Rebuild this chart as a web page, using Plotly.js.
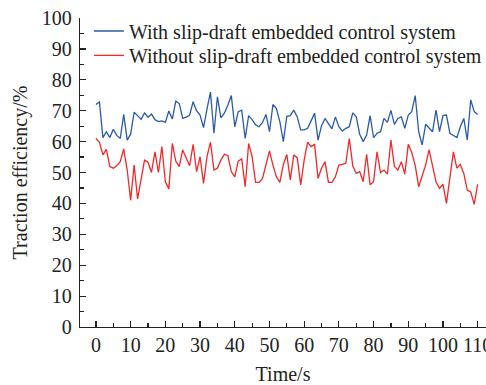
<!DOCTYPE html>
<html>
<head>
<meta charset="utf-8">
<script src="https://cdn.plot.ly/plotly-3.0.1.min.js"></script>
<style>html,body{margin:0;padding:0;background:#fff;}#chart{width:486px;height:385px;}</style>
</head>
<body>
<div id="chart"></div>
<script>
const timeS = Array.from({length: 111}, (_, i) => i);
const withSystem = [72,72.8,61.3,63.2,61.3,64,62,61,68.8,60.5,
  62.4,69.5,68.4,67.2,69.3,67.9,68.9,67.1,66.5,66.7,
  66.2,69.9,67.3,73.1,72.3,67.5,67.9,68.6,72.9,69.9,
  68.6,64.5,70.6,76,62.7,74.5,67.7,69.2,71.8,74.9,
  64.8,69.7,70.2,61,68.4,67.1,65.4,64.8,66.2,68.8,
  63.2,72,70.7,66.4,60,68.2,68.4,70.2,68,63.8,
  63.8,64.3,66.7,69.2,60.5,65.1,67.5,66,64.1,68,
  64.8,63.4,64.3,64.8,69.3,68,62.4,60,62.1,68.4,
  61.3,62.7,63.2,67.5,66.2,70.1,65.6,67.5,68,64.3,
  68.6,69.7,74.9,63.2,58.9,65.6,64.5,63.2,70.2,63.2,
  68.4,68.6,62.7,61.9,61.3,64.8,67.5,60.5,73.5,69.7,68.8];
const withoutSystem = [61,59.8,55.7,57.5,51.9,51.4,52.2,53.5,57.6,50.8,
  41,52.4,41.5,47.6,54,53.3,50,56.7,50,58.4,
  47,44.7,59.4,53.7,51.9,57.3,54.6,52.2,59.1,50.3,
  55.1,46.5,55.1,59.8,50.8,51.4,54,55.9,55.5,50.3,
  48.6,53.7,54.4,45.4,59.4,55.1,46.8,46.8,48.1,52.4,
  57,52.4,48.6,46.8,52.6,55.8,47.6,55.7,54.8,46,
  54,59.8,58.4,59.1,48.1,51.4,53.5,46.8,46.8,48.6,
  52.4,52.6,53,61,52.2,49.7,50.3,47,55.9,46,
  47,56.7,50,50.8,49.5,60.5,52,50.8,53.5,49.5,
  59.1,56.5,52.3,45.4,48.6,52.4,57.3,52.4,47,44.9,
  46.2,40,48.6,56.7,51.4,52.6,49.7,44.3,43.7,39.7,46.2];
const seriesNames = ['With slip-draft embedded control system', 'Without slip-draft embedded control system'];
const xTicks = [0,10,20,30,40,50,60,70,80,90,100,110];
const yTicks = [0,10,20,30,40,50,60,70,80,90,100];

const font = "'Liberation Serif', 'Times New Roman', serif";
const traces = [
  {x: timeS, y: withSystem, name: seriesNames[0], type: 'scatter', mode: 'lines',
   line: {color: '#2b5aa8', width: 1.3}, legend: 'legend'},
  {x: timeS, y: withoutSystem, name: seriesNames[1], type: 'scatter', mode: 'lines',
   line: {color: '#f0282a', width: 1.3}, legend: 'legend2'}
];
const legendBase = {xanchor: 'left', yanchor: 'middle', bgcolor: 'rgba(0,0,0,0)',
  font: {family: font, size: 20, color: '#222'}, itemwidth: 30, borderwidth: 0};
const layout = {
  width: 486, height: 385,
  margin: {l: 80, r: 0, t: 18, b: 58, autoexpand: false},
  paper_bgcolor: '#fff', plot_bgcolor: '#fff',
  font: {family: font, size: 20, color: '#222'},
  showlegend: true,
  legend: Object.assign({}, legendBase, {x: 0.022, y: 0.958}),
  legend2: Object.assign({}, legendBase, {x: 0.022, y: 0.879}),
  xaxis: {
    range: [-4.6, 112.4], tickvals: xTicks, ticktext: xTicks.map(String), tickangle: 0,
    ticks: 'inside', ticklen: 6, tickwidth: 1.2, tickcolor: '#222',
    minor: {dtick: 5, tick0: 0, ticks: 'inside', ticklen: 4, tickwidth: 1.2, tickcolor: '#222'},
    showline: true, linecolor: '#222', linewidth: 1.3, showgrid: false, zeroline: false,
    ticklabeloverflow: 'allow', automargin: false,
    title: {text: 'Time/s', font: {family: font, size: 20, color: '#222'}, standoff: 14},
    tickfont: {family: font, size: 20, color: '#222'}
  },
  yaxis: {
    range: [0, 100], tickvals: yTicks, ticktext: yTicks.map(String),
    ticks: 'inside', ticklen: 6, tickwidth: 1.2, tickcolor: '#222',
    minor: {dtick: 5, tick0: 0, ticks: 'inside', ticklen: 4, tickwidth: 1.2, tickcolor: '#222'},
    showline: true, linecolor: '#222', linewidth: 1.3, showgrid: false, zeroline: false,
    ticklabelstandoff: 3, automargin: false,
    title: {text: 'Traction efficiency/%', font: {family: font, size: 20, color: '#222'}, standoff: 8},
    tickfont: {family: font, size: 20, color: '#222'}
  }
};
Plotly.newPlot('chart', traces, layout, {displayModeBar: false, staticPlot: true});
</script>
</body>
</html>
